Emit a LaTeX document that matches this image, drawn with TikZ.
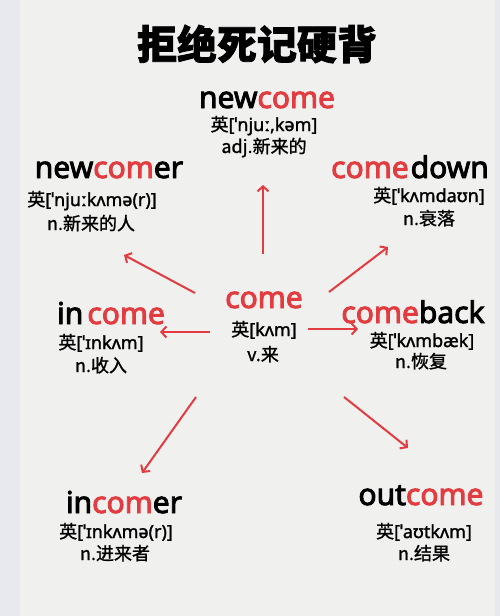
\documentclass[tikz,border=0pt]{standalone}
\usepackage{fontspec}
\setmainfont{Noto Sans}[FakeBold=1.5]
\newfontfamily\wordfont{Noto Sans}[FakeBold=3]
\newfontfamily\cjk{Noto Sans CJK SC}[FakeBold=1.2]
\newfontfamily\cjkhead{Noto Sans CJK SC}[BoldFeatures={FakeBold=2}]
\usetikzlibrary{arrows.meta}
\definecolor{wordred}{HTML}{E23B40}
\definecolor{paper}{HTML}{F0F0EE}
\definecolor{rim}{HTML}{E8E9EE}
\newcommand{\hl}[1]{\textcolor{wordred}{#1}}
\newcommand{\ying}{{\cjk 英}}

\begin{document}
\begin{tikzpicture}[x=1pt,y=-1pt,
  word/.style={anchor=base,inner sep=0pt,font=\wordfont\fontsize{30}{30}\selectfont},
  phon/.style={anchor=base,inner sep=0pt,font=\fontsize{18}{18}\selectfont},
  gloss/.style={anchor=base,inner sep=0pt,font=\cjk\fontsize{18}{18}\selectfont},
  link/.style={draw=wordred,line width=2pt,-{Straight Barb[length=5pt,width=11pt]}}]
% paper
\fill[rim] (0,0) rectangle (500,616);
\fill[paper] (20,0) rectangle (495,616);
\node[font=\cjkhead\bfseries\fontsize{40}{40}\selectfont] (title) at (257,44) {拒绝死记硬背};
% centre word
\node[word] (come) at (264,308) {\hl{come}};
\node[phon] (come-p) at (264,336) {\ying[kʌm]};
\node[gloss] (come-g) at (263,361) {v.来};
% top
\node[word] (newcome) at (267,108) {new\hl{come}};
\node[phon] (newcome-p) at (264,131) {\ying[ˈnjuː,kəm]};
\node[gloss] (newcome-g) at (264,153) {adj.新来的};
% upper left
\node[word] (newcomer) at (109,178) {new\hl{com}er};
\node[phon] (newcomer-p) at (92,206) {\ying[ˈnjuːkʌmə(r)]};
\node[gloss] (newcomer-g) at (91,230) {n.新来的人};
% upper right
\node[word] (comedown) at (410,178) {\hl{come}\hspace{2pt}down};
\node[phon] (comedown-p) at (429,202) {\ying[ˈkʌmdaʊn]};
\node[gloss] (comedown-g) at (429,225) {n.衰落};
% left
\node[word] (income) at (111,324) {in\hspace{4pt}\hl{come}};
\node[phon] (income-p) at (101,349) {\ying[ˈɪnkʌm]};
\node[gloss] (income-g) at (101,372) {n.收入};
% right
\node[word] (comeback) at (413,323) {\hl{come}back};
\node[phon] (comeback-p) at (422,347) {\ying[ˈkʌmbæk]};
\node[gloss] (comeback-g) at (421,368) {n.恢复};
% lower left
\node[word] (incomer) at (124,513) {in\hl{com}er};
\node[phon] (incomer-p) at (116,538) {\ying[ˈɪnkʌmə(r)]};
\node[gloss] (incomer-g) at (115,560) {n.进来者};
% lower right
\node[word] (outcome) at (421,505) {out\hl{come}};
\node[phon] (outcome-p) at (424,538) {\ying[ˈaʊtkʌm]};
\node[gloss] (outcome-g) at (424,560) {n.结果};
% arrow ends
\coordinate (n-s) at (263,254);  \coordinate (n-e) at (263,185);
\coordinate (nw-s) at (195,293); \coordinate (nw-e) at (124,255);
\coordinate (ne-s) at (329,292); \coordinate (ne-e) at (388,247);
\coordinate (w-s) at (210,332);  \coordinate (w-e) at (160,332);
\coordinate (e-s) at (308,329);  \coordinate (e-e) at (358,329);
\coordinate (sw-s) at (196,397); \coordinate (sw-e) at (142,473);
\coordinate (se-s) at (344,397); \coordinate (se-e) at (408,448);
\foreach \d in {n,nw,ne,w,e,sw,se}
  \draw[link] (\d-s) -- (\d-e);
\end{tikzpicture}
\end{document}
